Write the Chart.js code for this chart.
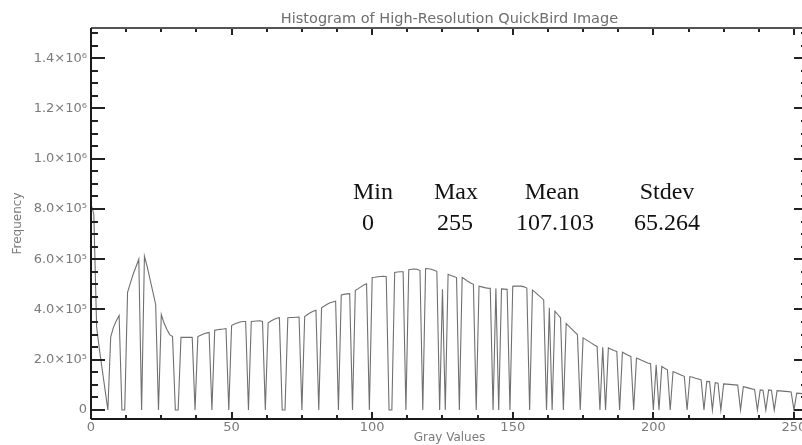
<!DOCTYPE html>
<html>
<head>
<meta charset="utf-8">
<script src="https://cdn.jsdelivr.net/npm/chart.js@4.4.1/dist/chart.umd.min.js"></script>
<style>
  html, body { margin: 0; padding: 0; background: #fff; overflow: hidden; }
  #wrap { width: 802px; height: 445px; overflow: hidden; }
  #box { width: 808px; height: 445px; position: relative; }
</style>
</head>
<body>
<div id="wrap"><div id="box"><canvas id="chartHist"></canvas></div></div>
<script>
// frequency per gray value 0..255
const frequency = [
  820000, 780000, 330000, 240000, 160000, 80000, 0, 290000, 330000, 355000,
  376000, 0, 0, 468000, 505000, 540000, 570000, 600000, 0, 612000,
  570000, 520000, 470000, 420000, 0, 380000, 345000, 320000, 300000, 292000,
  0, 0, 289000, 289000, 289000, 289000, 289000, 0, 292000, 297000,
  302000, 306000, 309000, 0, 317000, 319000, 321000, 322000, 324000, 0,
  336000, 342000, 346000, 350000, 352000, 352000, 0, 352000, 353000, 354000,
  355000, 352000, 0, 347000, 354000, 360000, 365000, 367000, 0, 0,
  367000, 368000, 368000, 369000, 370000, 0, 372000, 380000, 387000, 393000,
  397000, 0, 407000, 414000, 421000, 427000, 430000, 433000, 0, 458000,
  460000, 462000, 463000, 0, 475000, 483000, 490000, 497000, 502000, 0,
  527000, 528000, 530000, 531000, 532000, 530000, 0, 0, 547000, 549000,
  550000, 550000, 0, 558000, 560000, 561000, 560000, 555000, 0, 563000,
  562000, 560000, 556000, 552000, 0, 480000, 0, 540000, 535000, 531000,
  527000, 0, 527000, 520000, 512000, 505000, 500000, 0, 493000, 490000,
  487000, 485000, 484000, 0, 484000, 0, 482000, 481000, 480000, 0,
  492000, 493000, 493000, 493000, 490000, 485000, 0, 477000, 468000, 458000,
  448000, 438000, 0, 407000, 0, 393000, 380000, 367000, 0, 344000,
  333000, 322000, 311000, 300000, 0, 287000, 280000, 273000, 266000, 259000,
  253000, 0, 250000, 0, 247000, 242000, 237000, 233000, 0, 230000,
  224000, 218000, 213000, 0, 207000, 202000, 197000, 192000, 187000, 184000,
  0, 180000, 0, 173000, 166000, 160000, 0, 153000, 148000, 143000,
  138000, 134000, 0, 133000, 130000, 126000, 123000, 120000, 0, 114000,
  113000, 0, 109000, 107000, 0, 104000, 103000, 102000, 101000, 100000,
  99000, 0, 93000, 90000, 87000, 84000, 82000, 0, 80000, 79000,
  0, 80000, 79000, 0, 77000, 76000, 75000, 74000, 73000, 72000,
  0, 67000, 66000, 65000, 64000, 63000
];

const xTickValues = [0, 50, 100, 150, 200, 250];
const yTickValues = [0, 200000, 400000, 600000, 800000, 1000000, 1200000, 1400000];
const yTickLabels = ['0', '2.0×10⁵', '4.0×10⁵', '6.0×10⁵', '8.0×10⁵', '1.0×10⁶', '1.2×10⁶', '1.4×10⁶'];

const statNames = ['Min', 'Max', 'Mean', 'Stdev'];
const statValues = ['0', '255', '107.103', '65.264'];

const labelFont = { family: 'DejaVu Sans', size: 13 };
const grey = '#7a7a7a';

// IDL style box: inward ticks on all four sides, plus the stats table
const idlFrame = {
  id: 'idlFrame',
  afterDatasetsDraw(chart) {
    const { ctx, chartArea: a, scales } = chart;
    const x = scales.x, y = scales.y;
    ctx.save();
    ctx.strokeStyle = '#222';
    ctx.lineWidth = 2;
    const seg = (x1, y1, x2, y2) => {
      ctx.beginPath(); ctx.moveTo(x1, y1); ctx.lineTo(x2, y2); ctx.stroke();
    };
    for (let v = 0; v <= 1500000; v += 50000) {
      const py = Math.round(y.getPixelForValue(v));
      const len = v % 200000 === 0 ? 14 : 7;
      seg(a.left, py, a.left + len, py);
      seg(a.right, py, a.right - len, py);
    }
    for (let v = 0; v <= 255; v += 12.5) {
      const px = Math.round(x.getPixelForValue(v));
      const len = v % 50 === 0 ? 7 : 4;
      seg(px, a.bottom, px, a.bottom - len);
      seg(px, a.top, px, a.top + len);
    }
    ctx.strokeStyle = '#555';
    seg(a.left, a.top, a.right, a.top);
    ctx.strokeStyle = '#1a1a1a';
    seg(a.left, a.top, a.left, a.bottom);
    seg(a.left, a.bottom, a.right, a.bottom);
    seg(a.right, a.top, a.right, a.bottom);

    ctx.font = '24px "Liberation Serif"';
    ctx.fillStyle = '#111';
    ctx.textAlign = 'center';
    ctx.textBaseline = 'alphabetic';
    const headX = [373, 456, 552, 667];
    const valX = [368, 455, 555, 667];
    statNames.forEach((s, i) => ctx.fillText(s, headX[i], 199));
    statValues.forEach((s, i) => ctx.fillText(s, valX[i], 230));
    ctx.restore();
  }
};

const ctxHist = document.getElementById('chartHist').getContext('2d');
new Chart(ctxHist, {
  type: 'line',
  data: {
    datasets: [{
      label: 'Frequency',
      data: frequency.map((f, i) => ({ x: i, y: f })),
      borderColor: '#707070',
      borderWidth: 1.1,
      pointRadius: 0,
      tension: 0,
      fill: false
    }]
  },
  options: {
    responsive: true,
    maintainAspectRatio: false,
    animation: false,
    layout: { padding: 0 },
    plugins: {
      legend: { display: false },
      tooltip: { enabled: false }
    },
    scales: {
      x: {
        type: 'linear',
        position: 'bottom',
        min: 0,
        max: 255,
        grid: { display: false, drawTicks: false },
        border: { display: false },
        afterBuildTicks: s => { s.ticks = xTickValues.map(v => ({ value: v })); },
        afterFit: s => { s.height = 26; },
        ticks: { color: grey, font: labelFont, padding: 1, maxRotation: 0, autoSkip: false,
                 callback: v => String(v) },
        title: { display: true, text: 'Gray Values', color: grey,
                 font: { family: 'DejaVu Sans', size: 12 }, padding: { top: 0, bottom: 0 } }
      },
      x2: {
        type: 'linear',
        position: 'top',
        min: 0,
        max: 255,
        grid: { display: false, drawTicks: false },
        border: { display: false },
        ticks: { display: false },
        afterFit: s => { s.height = 28; },
        title: { display: true, text: 'Histogram of High-Resolution QuickBird Image', color: '#6e6e6e',
                 font: { family: 'DejaVu Sans', size: 14.5 }, padding: { top: 11, bottom: 0 } }
      },
      y: {
        type: 'linear',
        position: 'left',
        min: -35800,
        max: 1520000,
        grid: { display: false, drawTicks: false },
        border: { display: false },
        afterBuildTicks: s => { s.ticks = yTickValues.map(v => ({ value: v })); },
        afterFit: s => { s.width = 91; },
        ticks: { color: grey, font: labelFont, padding: 4, autoSkip: false,
                 callback: (v, i) => yTickLabels[i] },
        title: { display: true, text: 'Frequency', color: grey,
                 font: { family: 'DejaVu Sans', size: 12 }, padding: { top: 11, bottom: 0 } }
      }
    }
  },
  plugins: [idlFrame]
});
</script>
</body>
</html>
